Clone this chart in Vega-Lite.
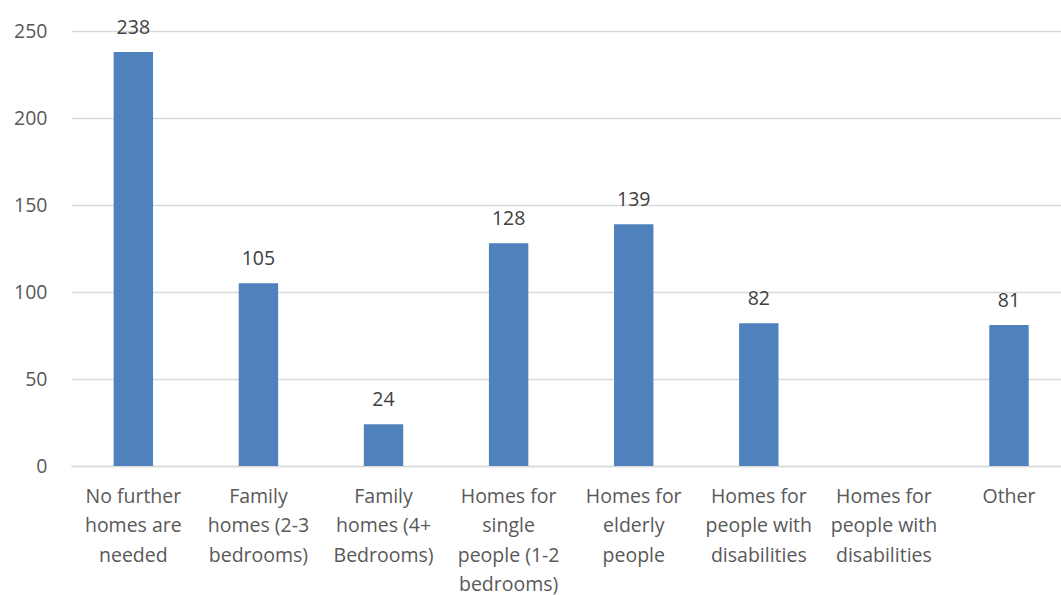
{
  "$schema": "https://vega.github.io/schema/vega-lite/v6.json",
  "width": 990,
  "height": 435,
  "autosize": {"type": "none"},
  "padding": {"left": 71, "top": 31, "right": 0, "bottom": 129},
  "background": "white",
  "config": {
    "view": {"stroke": null},
    "font": "Open Sans"
  },
  "data": {
    "values": [
      {"category": "No further|homes are|needed", "value": 238},
      {"category": "Family|homes (2-3|bedrooms)", "value": 105},
      {"category": "Family|homes (4+|Bedrooms)", "value": 24},
      {"category": "Homes for|single|people (1-2|bedrooms)", "value": 128},
      {"category": "Homes for|elderly|people", "value": 139},
      {"category": "Homes for|people with|disabilities", "value": 82},
      {"category": "Homes for|people with|disabilities ", "value": null},
      {"category": "Other", "value": 81}
    ]
  },
  "encoding": {
    "x": {
      "field": "category",
      "type": "nominal",
      "sort": null,
      "scale": {
        "domain": [
          "No further|homes are|needed",
          "Family|homes (2-3|bedrooms)",
          "Family|homes (4+|Bedrooms)",
          "Homes for|single|people (1-2|bedrooms)",
          "Homes for|elderly|people",
          "Homes for|people with|disabilities",
          "Homes for|people with|disabilities ",
          "Other"
        ],
        "paddingInner": 0.685, "paddingOuter": 0.2995, "align": 0.569
      },
      "axis": {
        "title": null,
        "labelAngle": 0,
        "labelExpr": "split(datum.value, '|')",
        "labelFont": "Open Sans",
        "labelFontSize": 19.5,
        "labelColor": "#595959",
        "labelLineHeight": 29.5,
        "labelPadding": 21,
        "labelBaseline": "top",
        "ticks": false,
        "domain": true,
        "domainColor": "#D9D9D9",
        "domainWidth": 1.3,
        "grid": false,
        "labelLimit": 200
      }
    },
    "y": {
      "field": "value",
      "type": "quantitative",
      "scale": {"domain": [0, 250], "nice": false},
      "axis": {
        "title": null,
        "values": [0, 50, 100, 150, 200, 250],
        "labelFont": "Open Sans",
        "labelFontSize": 19.5,
        "labelColor": "#595959",
        "labelPadding": 24,
        "ticks": false,
        "domain": false,
        "grid": true,
        "gridColor": "#D9D9D9",
        "gridWidth": 1.3
      }
    }
  },
  "layer": [
    {"mark": {"type": "bar", "color": "#4F81BD"}},
    {
      "transform": [{"filter": "isValid(datum.value)"}],
      "mark": {"type": "text", "baseline": "alphabetic", "dy": -18, "font": "Open Sans", "fontSize": 19.5, "color": "#404040"},
      "encoding": {"text": {"field": "value", "type": "quantitative"}}
    }
  ]
}
